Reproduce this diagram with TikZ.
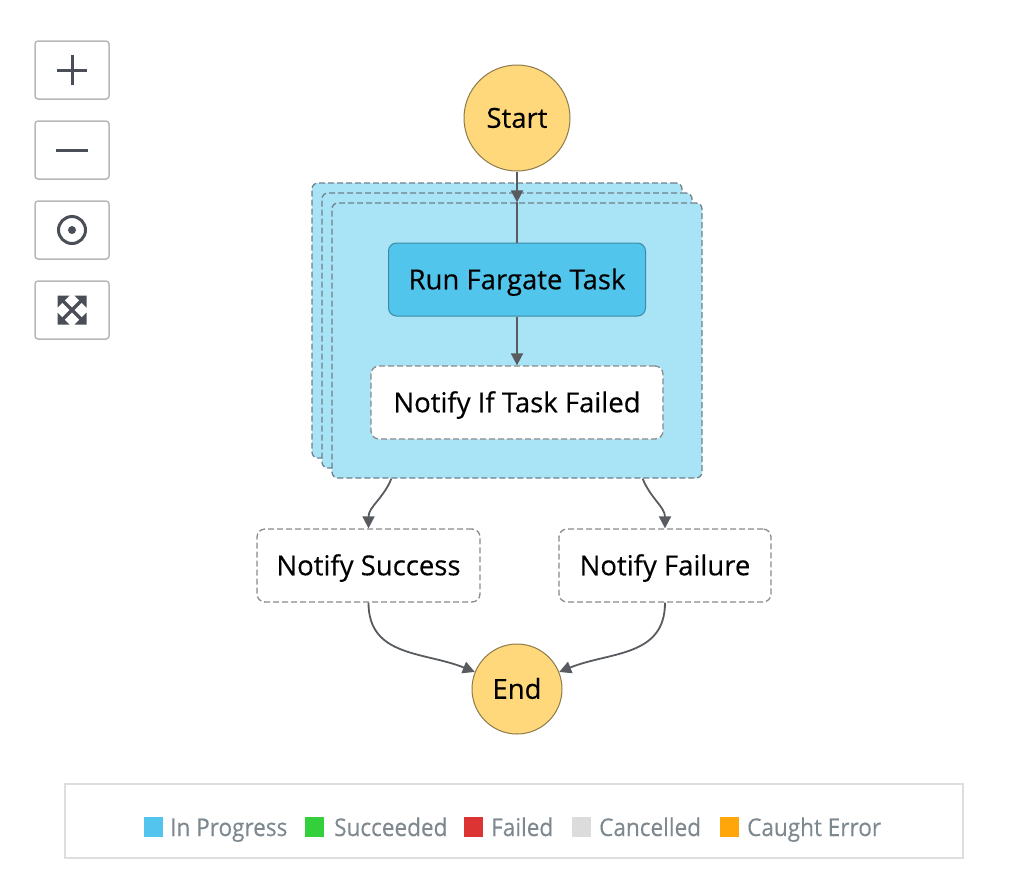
\documentclass[tikz,border=0pt]{standalone}
\usepackage{fontspec}
\setmainfont{Open Sans}
\newfontfamily\labelfont{Open Sans}[FakeBold=0.35]
\newfontfamily\legendfont{Open Sans}[FakeStretch=0.92,FakeBold=0.25]
\usetikzlibrary{arrows.meta,calc}
\definecolor{startfill}{HTML}{FED87A}
\definecolor{startdraw}{HTML}{8C7A4C}
\definecolor{mapfill}{HTML}{A9E4F6}
\definecolor{mapdraw}{HTML}{6E808C}
\definecolor{runfill}{HTML}{52C5EC}
\definecolor{rundraw}{HTML}{3D8AA6}
\definecolor{passdraw}{HTML}{8A8A8A}
\definecolor{conncol}{HTML}{585C60}
\definecolor{btndraw}{HTML}{B8B8B8}
\definecolor{iconcol}{HTML}{4A4E57}
\definecolor{legdraw}{HTML}{DEDEDE}
\definecolor{legtext}{HTML}{7E888F}
\definecolor{legblue}{HTML}{52C4EE}
\definecolor{leggreen}{HTML}{33D03C}
\definecolor{legred}{HTML}{DC3333}
\definecolor{leggray}{HTML}{DCDCDC}
\definecolor{legorange}{HTML}{FFA60A}
\tikzset{
  lbl/.style={font=\labelfont\fontsize{27.5}{32}\selectfont, text height=19.5pt, text depth=0pt, inner sep=0pt, align=center},
  terminal/.style={lbl, circle, fill=startfill, draw=startdraw, line width=1pt},
  mapbox/.style={rectangle, rounded corners=6pt, fill=mapfill, draw=mapdraw, line width=1.3pt, dash pattern=on 6pt off 3pt, minimum width=370pt, minimum height=275pt, inner sep=0pt},
  taskbox/.style={lbl, rectangle, rounded corners=8pt, fill=runfill, draw=rundraw, line width=1pt, minimum height=73pt},
  passbox/.style={lbl, rectangle, rounded corners=8pt, fill=white, draw=passdraw, line width=1.3pt, dash pattern=on 6pt off 3pt, minimum height=73pt},
  conn/.style={draw=conncol, line width=1.8pt},
  arr/.style={conn, -{Triangle[length=12pt,width=12pt]}},
  btn/.style={rectangle, rounded corners=3pt, draw=btndraw, line width=1.5pt, minimum width=74pt, minimum height=58pt, fill=white, inner sep=0pt},
  icon/.style={draw=iconcol, line width=3pt},
  legsq/.style={rectangle, minimum width=19pt, minimum height=20pt, inner sep=0pt, anchor=south west},
  legtxt/.style={font=\legendfont\fontsize{24.5}{29}\selectfont, text=legtext, anchor=base west, inner sep=0pt},
}
\begin{document}
\begin{tikzpicture}[x=1pt,y=1pt]
\useasboundingbox (0,0) rectangle (1028,-871);
% zoom buttons
\node[btn] (bplus) at (72,-70) {};
\node[btn] (bminus) at (72,-150) {};
\node[btn] (bcenter) at (72,-230) {};
\node[btn] (bfit) at (72,-310) {};
\draw[icon] ($(bplus.center)+(-15,0)$) -- ($(bplus.center)+(15,0)$);
\draw[icon] ($(bplus.center)+(0,-15)$) -- ($(bplus.center)+(0,15)$);
\draw[icon] ($(bminus.center)+(-16,0)$) -- ($(bminus.center)+(16,0)$);
\draw[icon] (bcenter.center) circle (13.5);
\fill[iconcol] (bcenter.center) circle (4);
\draw[icon,line width=3.4pt] ($(bfit.center)+(-12,12)$) -- ($(bfit.center)+(12,-12)$);
\draw[icon,line width=3.4pt] ($(bfit.center)+(-12,-12)$) -- ($(bfit.center)+(12,12)$);
\fill[iconcol] ($(bfit.center)+(-14.5,14.5)$) -- ++(12,0) -- ++(-12,-12) -- cycle;
\fill[iconcol] ($(bfit.center)+(14.5,14.5)$) -- ++(-12,0) -- ++(12,-12) -- cycle;
\fill[iconcol] ($(bfit.center)+(-14.5,-14.5)$) -- ++(12,0) -- ++(-12,12) -- cycle;
\fill[iconcol] ($(bfit.center)+(14.5,-14.5)$) -- ++(-12,0) -- ++(12,12) -- cycle;
% map iterations
\node[mapbox] (back) at (497,-320.5) {};
\node[mapbox] (mid) at (507,-330.5) {};
\node[mapbox] (front) at (517,-340.5) {};
% states
\node[terminal, minimum size=106pt] (start) at (517,-118) {Start};
\node[taskbox, minimum width=257pt] (run) at (517,-279.5) {Run Fargate Task};
\node[passbox, minimum width=292pt] (nif) at (517,-402.5) {Notify If Task Failed};
\node[passbox, minimum width=223pt] (ns) at (368.5,-565.5) {Notify Success};
\node[passbox, minimum width=212pt] (nf) at (665,-565.5) {Notify Failure};
\node[terminal, minimum size=90pt] (end) at (517,-689) {End};
% connectors
\draw[arr] (start.south) -- (front.north);
\draw[conn] (front.north) -- (run.north);
\draw[arr] (run.south) -- (nif.north);
\draw[arr] ([xshift=60pt]front.south west) to[out=-112,in=90] (ns.north);
\draw[arr] ([xshift=-60pt]front.south east) to[out=-68,in=90] (nf.north);
\draw[arr] (ns.south) to[out=-90,in=158,looseness=1.1] (end.158);
\draw[arr] (nf.south) to[out=-90,in=22,looseness=1.1] (end.22);
% legend
\node[rectangle, draw=legdraw, line width=1.5pt, minimum width=898pt, minimum height=74pt, inner sep=0pt] (legend) at (514,-821) {};
\node[legsq, fill=legblue] (sq1) at (144,-837) {};
\node[legtxt] (t1) at (170,-836) {In Progress};
\node[legsq, fill=leggreen] (sq2) at (305,-837) {};
\node[legtxt] (t2) at (334,-836) {Succeeded};
\node[legsq, fill=legred] (sq3) at (464,-837) {};
\node[legtxt] (t3) at (491,-836) {Failed};
\node[legsq, fill=leggray] (sq4) at (572,-837) {};
\node[legtxt] (t4) at (599,-836) {Cancelled};
\node[legsq, fill=legorange] (sq5) at (720,-837) {};
\node[legtxt] (t5) at (747,-836) {Caught Error};
\end{tikzpicture}
\end{document}
